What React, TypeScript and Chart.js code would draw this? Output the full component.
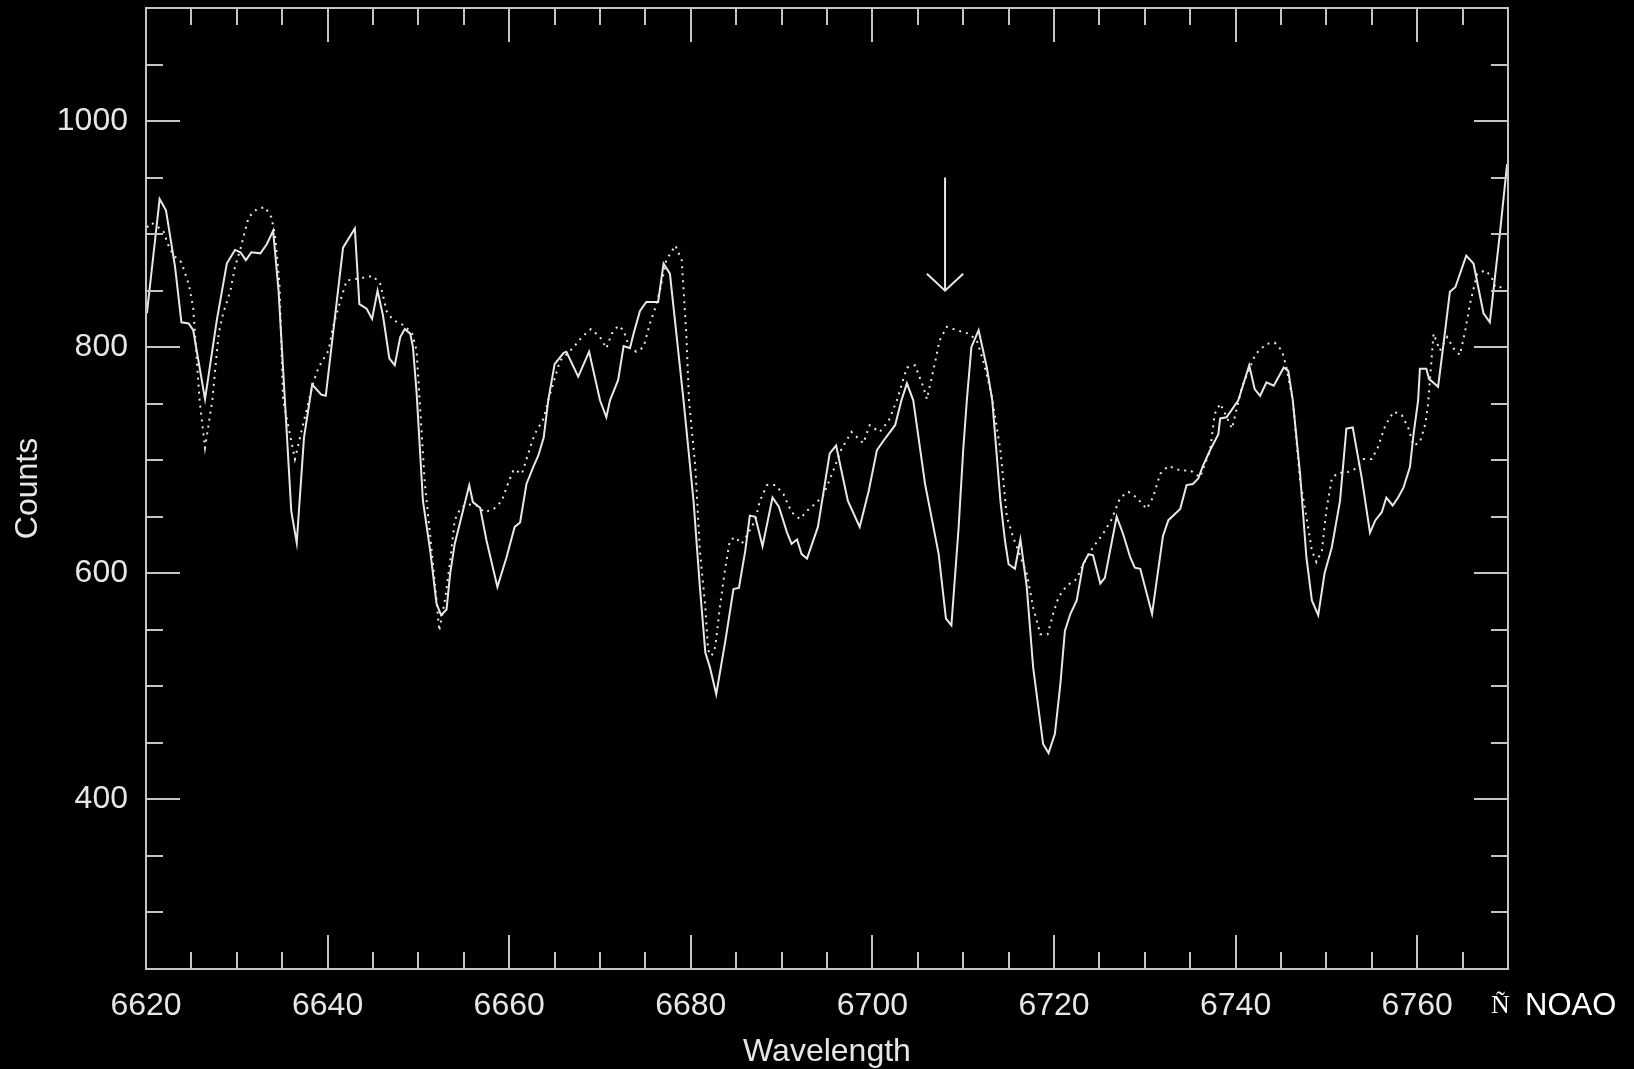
import React, { useEffect, useRef } from "react";
import { Chart, registerables } from "chart.js";

Chart.register(...registerables);

// ---- data ----
const solidWavelength = [
  6620.1, 6621.5, 6622.2, 6623.2, 6623.9, 6624.7, 6625.2, 6626.5, 6627.8, 6628.9,
  6629.8, 6630.4, 6631.0, 6631.6, 6632.6, 6633.3, 6634.0, 6634.6, 6636.0, 6636.6,
  6637.4, 6638.3, 6639.3, 6639.8, 6641.7, 6643.0, 6643.5, 6644.3, 6644.9, 6645.5,
  6646.1, 6646.8, 6647.4, 6648.0, 6648.5, 6649.1, 6649.4, 6649.8, 6650.5, 6651.3,
  6652.0, 6652.5, 6653.1, 6653.5, 6654.0, 6654.9, 6655.6, 6656.0, 6656.8, 6657.5,
  6658.7, 6659.7, 6660.6, 6661.2, 6661.9, 6662.7, 6663.2, 6663.8, 6664.3, 6665.0,
  6666.0, 6666.3, 6667.6, 6668.8, 6670.0, 6670.7, 6671.1, 6672.0, 6672.6, 6673.3,
  6673.7, 6674.4, 6675.1, 6676.4, 6677.0, 6677.7, 6679.2, 6680.3, 6681.0, 6681.6,
  6682.1, 6682.8, 6683.8, 6684.7, 6685.3, 6686.0, 6686.5, 6687.1, 6687.9, 6689.0,
  6689.7, 6690.6, 6691.1, 6691.7, 6692.2, 6692.8, 6694.0, 6695.3, 6696.0, 6697.3,
  6698.6, 6699.6, 6700.5, 6701.2, 6702.5, 6703.2, 6703.8, 6704.5, 6705.8, 6707.3,
  6708.1, 6708.7, 6709.5, 6710.0, 6710.4, 6710.9, 6711.7, 6712.6, 6713.2, 6714.1,
  6714.6, 6715.0, 6715.7, 6716.3, 6717.0, 6717.7, 6718.8, 6719.4, 6720.1, 6720.7,
  6721.2, 6721.8, 6722.5, 6723.2, 6723.8, 6724.3, 6725.1, 6725.6, 6726.9, 6727.6,
  6728.4, 6728.9, 6729.5, 6730.8, 6732.0, 6732.6, 6733.9, 6734.6, 6735.3, 6735.9,
  6736.4, 6737.2, 6738.1, 6738.3, 6739.0, 6740.3, 6741.5, 6742.1, 6742.7, 6743.4,
  6744.2, 6745.3, 6745.8, 6746.3, 6747.1, 6747.8, 6748.4, 6749.1, 6749.8, 6750.6,
  6751.5, 6752.2, 6752.9, 6753.9, 6754.8, 6755.4, 6756.1, 6756.6, 6757.3, 6757.9,
  6758.5, 6759.2, 6759.6, 6760.1, 6760.3, 6761.0, 6761.3, 6762.3, 6762.9, 6763.6,
  6764.2, 6765.4, 6766.2, 6767.3, 6768.0, 6769.1, 6769.9,
];
const solidCounts = [
  830, 931, 921, 871, 822, 821, 815, 754, 824, 874,
  886, 884, 877, 884, 883, 891, 903, 850, 655, 627,
  720, 767, 758, 757, 888, 905, 838, 834, 825, 850,
  828, 790, 784, 809, 816, 812, 800, 760, 664, 620,
  573, 563, 568, 600, 626, 655, 678, 663, 658, 629,
  588, 614, 641, 645, 679, 695, 704, 720, 753, 785,
  795, 796, 774, 796, 753, 738, 753, 771, 801, 799,
  812, 832, 840, 840, 874, 865, 753, 664, 588, 530,
  517, 493, 540, 586, 587, 620, 651, 650, 624, 667,
  659, 636, 626, 630, 617, 613, 641, 706, 713, 664,
  641, 673, 709, 717, 731, 753, 768, 753, 679, 617,
  560, 554, 641, 709, 753, 800, 815, 782, 753, 664,
  629, 608, 604, 630, 588, 517, 449, 441, 458, 502,
  549, 564, 576, 608, 617, 616, 591, 596, 650, 635,
  614, 605, 604, 564, 633, 647, 657, 678, 679, 684,
  695, 709, 723, 737, 738, 753, 784, 763, 757, 769,
  766, 782, 779, 753, 688, 614, 576, 563, 600, 623,
  664, 728, 729, 684, 636, 647, 654, 667, 660, 667,
  676, 694, 723, 753, 781, 781, 772, 765, 803, 849,
  853, 881, 874, 830, 822, 900, 962,
];

const dottedWavelength = [
  6620.1, 6620.6, 6621.9, 6622.6, 6623.2, 6623.9, 6624.7, 6625.2, 6625.9, 6626.5,
  6627.3, 6628.0, 6628.5, 6629.3, 6629.8, 6630.4, 6631.3, 6632.2, 6633.1, 6633.8,
  6634.2, 6634.7, 6635.1, 6636.4, 6637.4, 6638.4, 6639.0, 6640.1, 6640.6, 6641.4,
  6642.1, 6643.6, 6645.0, 6645.8, 6646.5, 6647.2, 6648.5, 6649.3, 6649.8, 6650.7,
  6651.4, 6652.0, 6652.3, 6653.0, 6653.5, 6654.0, 6654.6, 6655.3, 6656.4, 6657.3,
  6658.3, 6659.2, 6659.7, 6660.5, 6661.4, 6662.1, 6662.8, 6663.8, 6664.4, 6665.6,
  6667.1, 6668.0, 6669.0, 6670.0, 6670.7, 6671.3, 6672.0, 6672.6, 6673.2, 6674.0,
  6674.8, 6675.5, 6676.1, 6676.6, 6677.3, 6678.3, 6679.0, 6679.5, 6679.8, 6680.5,
  6681.0, 6681.6, 6681.9, 6682.3, 6682.7, 6683.2, 6683.8, 6684.3, 6684.9, 6685.6,
  6686.3, 6687.1, 6687.6, 6688.4, 6689.3, 6690.2, 6691.1, 6692.0, 6692.9, 6693.9,
  6694.6, 6695.7, 6696.6, 6697.7, 6699.0, 6699.7, 6700.8, 6701.8, 6702.7, 6703.8,
  6704.7, 6705.6, 6706.0, 6706.7, 6707.4, 6708.2, 6709.3, 6710.6, 6711.5, 6712.2,
  6713.1, 6714.1, 6714.8, 6715.5, 6717.0, 6717.7, 6718.5, 6719.3, 6719.9, 6720.5,
  6721.4, 6722.5, 6723.2, 6724.3, 6725.4, 6726.3, 6727.3, 6728.2, 6729.1, 6730.2,
  6730.9, 6731.7, 6732.6, 6733.9, 6735.0, 6736.1, 6737.2, 6737.7, 6738.3, 6738.8,
  6739.6, 6740.7, 6742.2, 6743.4, 6744.3, 6745.1, 6745.6, 6746.3, 6747.1, 6747.8,
  6748.4, 6748.9, 6749.5, 6750.0, 6750.6, 6751.3, 6752.2, 6753.1, 6754.1, 6755.0,
  6755.7, 6756.5, 6757.4, 6758.3, 6759.0, 6759.6, 6760.3, 6760.9, 6761.2, 6761.8,
  6762.5, 6763.3, 6764.0, 6764.7, 6765.3, 6765.8, 6766.6, 6767.5, 6768.2, 6768.6,
  6769.3,
];
const dottedCounts = [
  906, 910, 903, 887, 880, 875, 856, 835, 753, 711,
  753, 812, 830, 850, 871, 887, 915, 922, 924, 915,
  900, 856, 753, 701, 735, 768, 782, 797, 818, 841,
  859, 861, 863, 856, 832, 824, 819, 812, 797, 680,
  625, 576, 549, 580, 611, 647, 657, 661, 660, 654,
  657, 664, 676, 692, 688, 706, 723, 737, 756, 788,
  800, 809, 816, 809, 799, 812, 819, 815, 800, 796,
  800, 821, 835, 850, 877, 890, 877, 812, 753, 694,
  620, 570, 532, 527, 535, 570, 605, 629, 632, 626,
  635, 647, 664, 678, 678, 670, 654, 648, 656, 663,
  669, 691, 710, 725, 715, 731, 725, 735, 753, 782,
  784, 765, 754, 779, 806, 818, 815, 812, 806, 788,
  759, 709, 650, 632, 600, 570, 546, 546, 564, 579,
  589, 595, 608, 623, 635, 647, 667, 672, 667, 657,
  667, 688, 695, 691, 691, 685, 709, 741, 750, 742,
  728, 765, 794, 803, 804, 797, 782, 753, 682, 650,
  620, 610, 620, 656, 684, 689, 689, 692, 701, 701,
  712, 731, 743, 740, 729, 713, 716, 732, 750, 812,
  797, 809, 799, 793, 815, 838, 865, 868, 862, 853,
  853,
];

// arrow marking the line (data coordinates)
const arrowWavelength = 6708;
const arrowTop = 950;
const arrowTip = 850;
const arrowHeadHalfWidth = 2;
const arrowHeadHeight = 15;

const xMin = 6620;
const xMax = 6770;
const yMin = 250;
const yMax = 1100;
const xTickLabels = [6620, 6640, 6660, 6680, 6700, 6720, 6740, 6760];
const yTickLabels = [400, 600, 800, 1000];
const xMinorStep = 5;
const yMinorStep = 50;

const LINE = "#e8e8e8";
const AXIS = "#c4c4c4";
const TEXT = "#e6e6e6";
const FONT = "'Liberation Sans', Arial, Helvetica, sans-serif";

const framePlugin = {
  id: "frame",
  afterDatasetsDraw(chart: any) {
    const { ctx, chartArea } = chart;
    const xs = chart.scales.x;
    const ys = chart.scales.y;
    const { left, right, top, bottom } = chartArea;
    ctx.save();
    ctx.strokeStyle = AXIS;
    ctx.lineWidth = 2;
    ctx.strokeRect(left, top, right - left, bottom - top);
    ctx.beginPath();
    for (let v = xMin + xMinorStep; v < xMax; v += xMinorStep) {
      const px = Math.round(xs.getPixelForValue(v));
      const len = (v - xMin) % 20 === 0 ? 34 : 17;
      ctx.moveTo(px, bottom);
      ctx.lineTo(px, bottom - len);
      ctx.moveTo(px, top);
      ctx.lineTo(px, top + len);
    }
    for (let v = yMin + yMinorStep; v < yMax; v += yMinorStep) {
      const py = Math.round(ys.getPixelForValue(v));
      const len = v % 200 === 0 ? 34 : 17;
      ctx.moveTo(left, py);
      ctx.lineTo(left + len, py);
      ctx.moveTo(right, py);
      ctx.lineTo(right - len, py);
    }
    ctx.stroke();

    // credit text
    const yText = 1006;
    ctx.fillStyle = "#ffffff";
    ctx.textBaseline = "middle";
    ctx.textAlign = "left";
    ctx.font = "26px 'Liberation Serif', 'DejaVu Serif', serif";
    ctx.fillText("Ñ", 1491, yText);
    ctx.font = `31px ${FONT}`;
    ctx.fillText("NOAO", 1525, yText);
    ctx.restore();
  },
};

export default function App() {
  const canvasRef = useRef<HTMLCanvasElement | null>(null);

  useEffect(() => {
    document.body.style.margin = "0";
    document.body.style.background = "#000";
    const canvas = canvasRef.current;
    if (!canvas) return;

    const solid = solidWavelength.map((x, i) => ({ x, y: solidCounts[i] }));
    const dotted = dottedWavelength.map((x, i) => ({ x, y: dottedCounts[i] }));
    const shaft = [
      { x: arrowWavelength, y: arrowTop },
      { x: arrowWavelength, y: arrowTip },
    ];
    const head = [
      { x: arrowWavelength - arrowHeadHalfWidth, y: arrowTip + arrowHeadHeight },
      { x: arrowWavelength, y: arrowTip },
      { x: arrowWavelength + arrowHeadHalfWidth, y: arrowTip + arrowHeadHeight },
    ];

    const base = {
      showLine: true,
      pointRadius: 0,
      pointHoverRadius: 0,
      borderColor: LINE,
      fill: false,
      tension: 0,
    };

    const chart = new Chart(canvas, {
      type: "scatter",
      data: {
        datasets: [
          { ...base, label: "observed", data: solid, borderWidth: 2 },
          { ...base, label: "model", data: dotted, borderWidth: 2, borderDash: [2, 5] },
          { ...base, label: "arrow", data: shaft, borderWidth: 2 },
          { ...base, label: "arrowhead", data: head, borderWidth: 2 },
        ],
      },
      options: {
        responsive: false,
        animation: false,
        events: [],
        layout: { padding: { left: 0, top: 8, right: 126, bottom: 0 } },
        plugins: {
          legend: { display: false },
          tooltip: { enabled: false },
        },
        scales: {
          x: {
            type: "linear",
            position: "bottom",
            min: xMin,
            max: xMax,
            grid: { display: false, drawTicks: false },
            border: { display: false },
            afterBuildTicks: (s: any) => {
              s.ticks = xTickLabels.map((v) => ({ value: v }));
            },
            afterFit: (s: any) => {
              s.height = 100;
              s.paddingLeft = 0;
              s.paddingRight = 0;
            },
            ticks: {
              color: TEXT,
              font: { family: FONT, size: 32 },
              padding: 18,
              maxRotation: 0,
              autoSkip: false,
              callback: (v: any) => String(v),
            },
            title: {
              display: true,
              text: "Wavelength",
              color: TEXT,
              font: { family: FONT, size: 32 },
              padding: { top: 0, bottom: -2 },
            },
          },
          y: {
            type: "linear",
            position: "left",
            min: yMin,
            max: yMax,
            grid: { display: false, drawTicks: false },
            border: { display: false },
            afterBuildTicks: (s: any) => {
              s.ticks = yTickLabels.map((v) => ({ value: v }));
            },
            afterFit: (s: any) => {
              s.width = 146;
              s.paddingTop = 0;
              s.paddingBottom = 0;
            },
            ticks: {
              color: TEXT,
              font: { family: FONT, size: 32 },
              padding: 18,
              autoSkip: false,
              callback: (v: any) => String(v),
            },
            title: {
              display: true,
              text: "Counts",
              color: TEXT,
              font: { family: FONT, size: 32 },
              padding: { top: 9, bottom: 0 },
            },
          },
        },
      },
      plugins: [framePlugin],
    });

    return () => {
      chart.destroy();
    };
  }, []);

  return (
    <div style={{ width: 1634, height: 1069, background: "#000" }}>
      <canvas ref={canvasRef} width={1634} height={1069} style={{ display: "block" }} />
    </div>
  );
}
